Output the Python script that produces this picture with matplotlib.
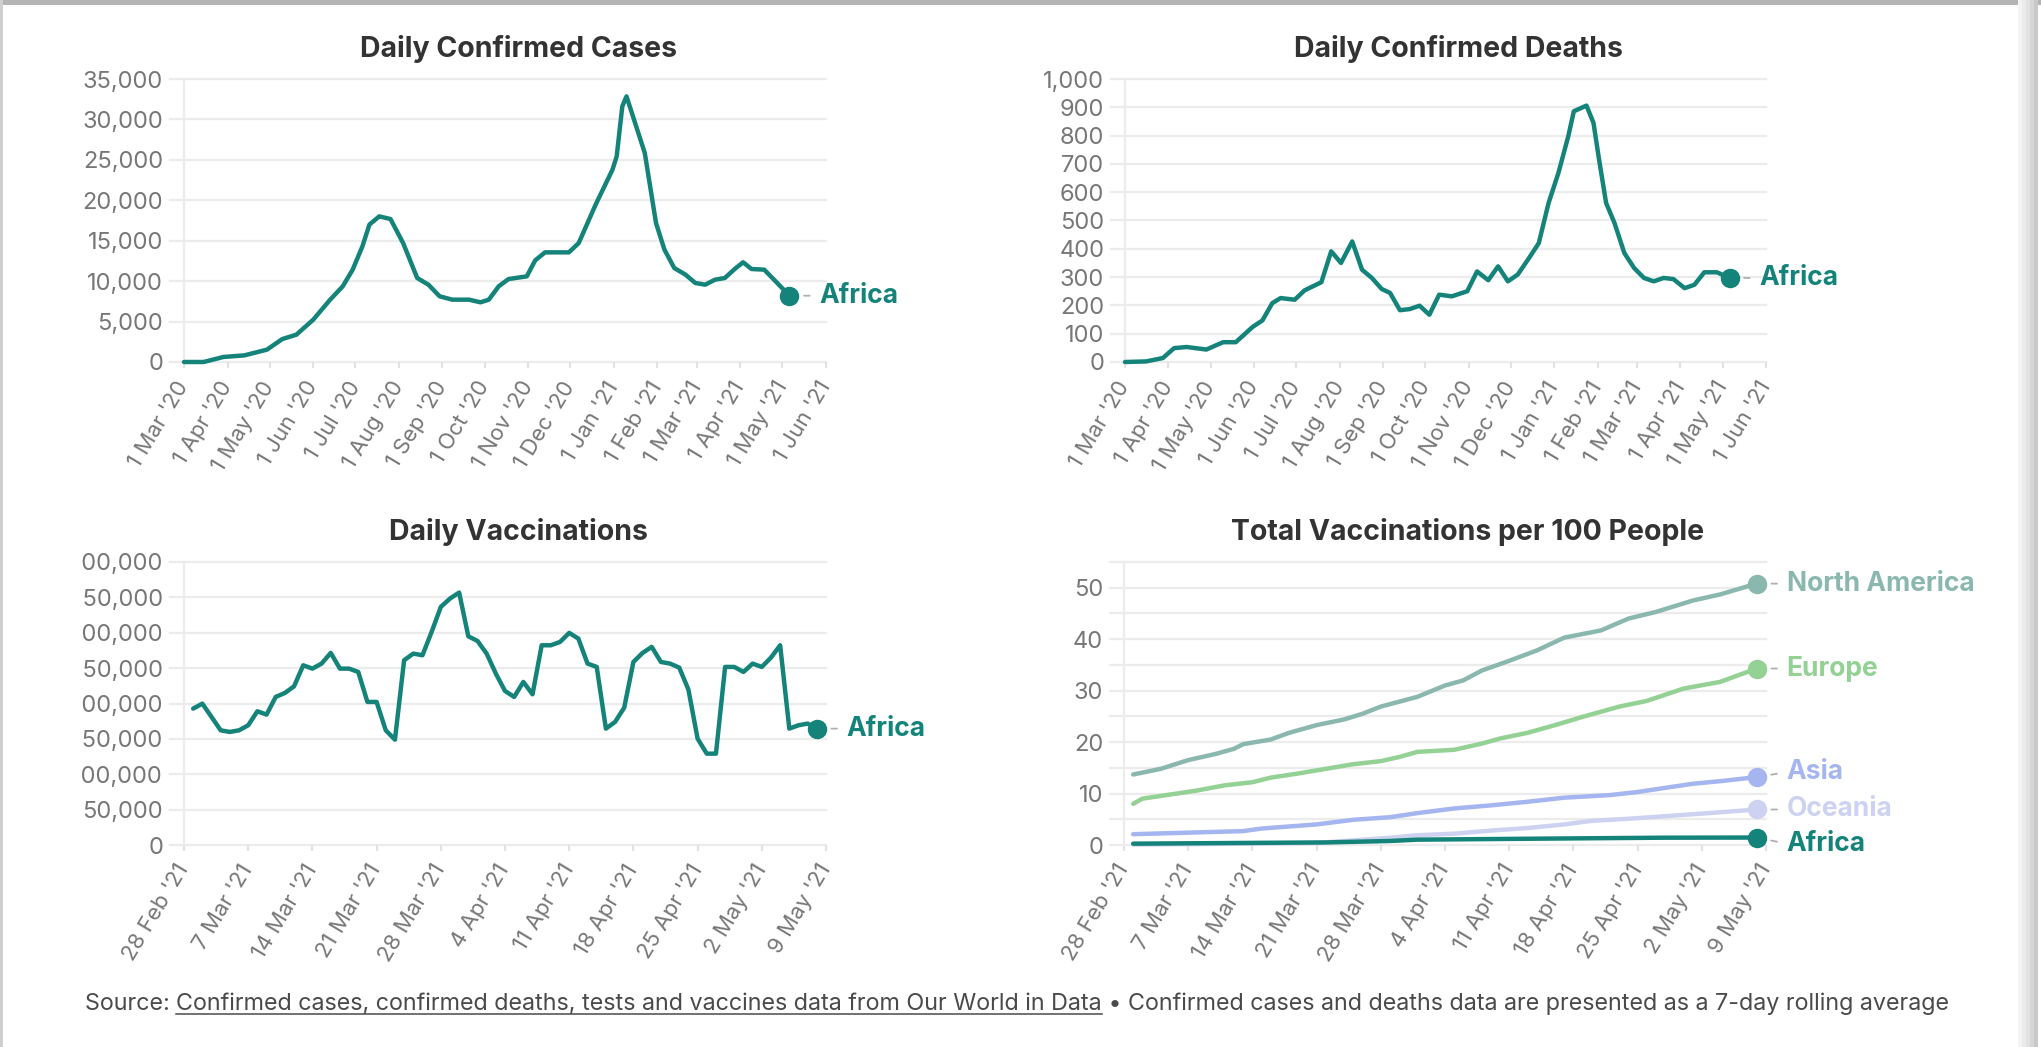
import matplotlib
matplotlib.use("Agg")
import numpy as np
import pandas as pd
import matplotlib.pyplot as plt
from matplotlib.lines import Line2D
from matplotlib.patches import Rectangle
from matplotlib.transforms import Bbox, TransformedBbox

plt.rcParams["font.family"] = ["Inter", "DejaVu Sans"]

# ==================== data ====================
cases_dates = ["2020-03-01", "2020-03-15", "2020-03-29", "2020-04-13", "2020-04-29",
               "2020-05-10", "2020-05-20", "2020-06-01", "2020-06-13", "2020-06-22",
               "2020-06-29", "2020-07-06", "2020-07-11", "2020-07-18", "2020-07-26",
               "2020-08-04", "2020-08-14", "2020-08-22", "2020-08-30", "2020-09-08",
               "2020-09-20", "2020-09-28", "2020-10-04", "2020-10-11", "2020-10-18",
               "2020-10-31", "2020-11-06", "2020-11-13", "2020-11-30", "2020-12-07",
               "2020-12-19", "2020-12-31", "2021-01-03", "2021-01-07", "2021-01-10",
               "2021-01-23", "2021-01-31", "2021-02-06", "2021-02-13", "2021-02-21",
               "2021-02-28", "2021-03-07", "2021-03-14", "2021-03-21", "2021-03-28",
               "2021-04-03", "2021-04-09", "2021-04-18", "2021-04-25", "2021-05-06"]
cases = [0, 0, 620, 820, 1525, 2840, 3380, 5235, 7700, 9360,
         11400, 14300, 17000, 18010, 17680, 14700, 10390, 9560, 8120, 7710,
         7710, 7380, 7710, 9360, 10260, 10590, 12570, 13560, 13560, 14720,
         19460, 23780, 25430, 31620, 32850, 25850, 17190, 13890, 11620, 10800,
         9770, 9560, 10180, 10390, 11500, 12330, 11500, 11420, 10180, 8200]

deaths_dates = ["2020-03-01", "2020-03-16", "2020-03-28", "2020-04-05", "2020-04-14",
                "2020-04-28", "2020-05-10", "2020-05-19", "2020-05-31", "2020-06-07",
                "2020-06-14", "2020-06-20", "2020-06-30", "2020-07-07", "2020-07-19",
                "2020-07-26", "2020-08-02", "2020-08-10", "2020-08-17", "2020-08-24",
                "2020-08-31", "2020-09-06", "2020-09-13", "2020-09-20", "2020-09-27",
                "2020-10-04", "2020-10-11", "2020-10-20", "2020-10-31", "2020-11-07",
                "2020-11-15", "2020-11-22", "2020-11-29", "2020-12-06", "2020-12-14",
                "2020-12-21", "2020-12-28", "2021-01-04", "2021-01-11", "2021-01-15",
                "2021-01-24", "2021-01-29", "2021-02-02", "2021-02-07", "2021-02-13",
                "2021-02-20", "2021-02-27", "2021-03-06", "2021-03-13", "2021-03-20",
                "2021-03-27", "2021-04-04", "2021-04-11", "2021-04-18", "2021-04-27",
                "2021-05-06"]
deaths = [0, 2, 14, 49, 53, 44, 70, 70, 124, 147,
          208, 226, 220, 253, 282, 391, 350, 426, 326, 297,
          258, 244, 183, 187, 199, 167, 238, 232, 250, 320,
          289, 338, 285, 309, 367, 420, 562, 668, 797, 886,
          906, 845, 715, 562, 491, 385, 332, 297, 285, 297,
          293, 261, 273, 317, 317, 297]

vacc_dates = pd.date_range("2021-03-01", "2021-05-08", freq="D")
daily_vacc = [192800, 199800, 181000, 162100, 159800, 162100, 169200, 189000, 184300, 209300,
              214900, 224300, 254000, 249300, 256400, 271500, 249300, 249300, 244600, 202200,
              202200, 162100, 148900, 261100, 270500, 268200, 301200, 336500, 348300, 356800,
              295000, 288400, 270500, 242300, 217700, 209300, 230500, 213000, 282300, 282300,
              287000, 299800, 291700, 256400, 251700, 164500, 173900, 194200, 258700, 271500,
              280000, 258700, 256400, 250700, 219600, 150300, 129100, 129100, 251700, 251700,
              244600, 256400, 251700, 264900, 282300, 164500, 169200, 171600, 164500]

na_dates = ["2021-03-01", "2021-03-04", "2021-03-07", "2021-03-10", "2021-03-12",
            "2021-03-13", "2021-03-16", "2021-03-18", "2021-03-21", "2021-03-24",
            "2021-03-26", "2021-03-28", "2021-04-01", "2021-04-04", "2021-04-06",
            "2021-04-08", "2021-04-11", "2021-04-14", "2021-04-17", "2021-04-21",
            "2021-04-24", "2021-04-27", "2021-05-01", "2021-05-04", "2021-05-08"]
north_america = [13.7, 14.8, 16.5, 17.7, 18.7, 19.6, 20.5, 21.8, 23.3, 24.4,
                 25.5, 26.9, 28.8, 31.0, 32.0, 33.9, 35.8, 37.8, 40.3, 41.7,
                 44.0, 45.3, 47.5, 48.7, 50.8]

eu_dates = ["2021-03-01", "2021-03-02", "2021-03-05", "2021-03-08", "2021-03-11",
            "2021-03-14", "2021-03-16", "2021-03-19", "2021-03-22", "2021-03-25",
            "2021-03-28", "2021-03-30", "2021-04-01", "2021-04-05", "2021-04-08",
            "2021-04-10", "2021-04-13", "2021-04-16", "2021-04-19", "2021-04-23",
            "2021-04-26", "2021-04-30", "2021-05-04", "2021-05-08"]
europe = [8.0, 9.0, 9.8, 10.6, 11.6, 12.2, 13.1, 13.9, 14.8, 15.7,
          16.3, 17.1, 18.1, 18.5, 19.7, 20.7, 21.8, 23.3, 24.9, 26.9,
          28.0, 30.4, 31.7, 34.3]

asia_dates = ["2021-03-01", "2021-03-05", "2021-03-13", "2021-03-15", "2021-03-18",
              "2021-03-21", "2021-03-25", "2021-03-29", "2021-04-01", "2021-04-05",
              "2021-04-09", "2021-04-13", "2021-04-17", "2021-04-22", "2021-04-25",
              "2021-04-28", "2021-05-01", "2021-05-04", "2021-05-08"]
asia = [2.1, 2.3, 2.7, 3.2, 3.6, 4.0, 4.9, 5.4, 6.2, 7.1,
        7.7, 8.4, 9.2, 9.7, 10.3, 11.1, 11.9, 12.4, 13.2]

oc_dates = ["2021-03-01", "2021-03-13", "2021-03-21", "2021-03-25", "2021-03-29",
            "2021-04-01", "2021-04-05", "2021-04-09", "2021-04-13", "2021-04-17",
            "2021-04-20", "2021-04-24", "2021-04-28", "2021-05-02", "2021-05-05",
            "2021-05-08"]
oceania = [0.1, 0.26, 0.4, 0.9, 1.4, 1.9, 2.2, 2.8, 3.3, 4.0,
           4.7, 5.1, 5.6, 6.1, 6.5, 6.9]

af_dates = ["2021-03-01", "2021-03-13", "2021-03-22", "2021-03-29", "2021-04-01",
            "2021-04-10", "2021-04-19", "2021-04-28", "2021-05-08"]
africa_per100 = [0.26, 0.4, 0.5, 0.78, 1.04, 1.17, 1.3, 1.42, 1.45]

month_ticks = pd.date_range("2020-03-01", "2021-06-01", freq="MS")
week_ticks = pd.date_range("2021-02-28", "2021-05-09", freq="7D")

# ==================== styles ====================
C_AFRICA = "#14837a"
C_NA = "#8bb8ae"
C_EU = "#94d194"
C_ASIA = "#a5b5ef"
C_OC = "#cdd2f1"
GRID = "#ececec"
TICK_C = "#777777"
TITLE_C = "#333333"

W, H = 2041, 1047
fig = plt.figure(figsize=(W / 100, H / 100), dpi=100)
fig.patch.set_facecolor("white")


def px_axes(left, top, right, bottom):
    return fig.add_axes([left / W, 1 - bottom / H, (right - left) / W, (bottom - top) / H])


def tick_label(d):
    return f"{d.day} {d.strftime('%b')} '{d.strftime('%y')}"


def style(ax, title, ymax, grid_step, label_ticks, xticks, fmt, title_shift=13):
    ax.set_xlim(xticks[0], xticks[-1])
    ax.set_ylim(0, ymax)
    for s in ["top", "right", "bottom"]:
        ax.spines[s].set_visible(False)
    ax.spines["left"].set_color(GRID)
    ax.spines["left"].set_linewidth(1.6)
    for g in np.arange(0, ymax + 1e-9, grid_step):
        ax.axhline(g, xmin=-0.022, xmax=1, color=GRID, lw=1.6, clip_on=False, zorder=0)
    ax.set_yticks(label_ticks)
    ax.set_yticklabels([fmt(v) for v in label_ticks])
    ax.tick_params(axis="y", length=0, pad=15, labelsize=17, labelcolor=TICK_C)
    ax.set_xticks(xticks)
    ax.set_xticklabels([tick_label(d) for d in xticks], rotation=59, ha="right",
                       rotation_mode="anchor", va="center")
    ax.tick_params(axis="x", length=4, width=1.5, color="#e2e2e2", pad=11,
                   labelsize=16, labelcolor=TICK_C)
    ax.set_title(title, fontsize=20.5, fontweight="bold", color=TITLE_C, pad=16,
                 x=0.5 + title_shift / 642)
    ax.patch.set_alpha(0)


def series(ax, x, y, color, name, dy=0):
    x = pd.to_datetime(pd.Series(x))
    ax.plot(x, y, color=color, lw=3.2, solid_joinstyle="round", solid_capstyle="round",
            zorder=3, clip_on=False)
    ax.plot(x.iloc[-1], y[-1], "o", ms=13, color=color, zorder=4, clip_on=False)
    ax.annotate("", xy=(x.iloc[-1], y[-1]), xytext=(14.5, dy * 0.6), textcoords="offset points",
                arrowprops=dict(arrowstyle="-", color="#b0b0b0", lw=1.3, shrinkA=0, shrinkB=10.5),
                annotation_clip=False)
    ax.annotate(name, xy=(x.iloc[-1], y[-1]), xytext=(21.5, dy), textcoords="offset points",
                ha="left", va="center", fontsize=19, fontweight="bold", color=color,
                annotation_clip=False)


comma = lambda v: f"{int(v):,}"

ax1 = px_axes(184, 79, 826, 362)
style(ax1, "Daily Confirmed Cases", 35000, 5000, np.arange(0, 35001, 5000), month_ticks, comma)
series(ax1, cases_dates, cases, C_AFRICA, "Africa")

ax2 = px_axes(1125, 79, 1766, 362)
style(ax2, "Daily Confirmed Deaths", 1000, 100, np.arange(0, 1001, 100), month_ticks, comma)
series(ax2, deaths_dates, deaths, C_AFRICA, "Africa")

ax3 = px_axes(184, 562, 826, 845)
style(ax3, "Daily Vaccinations", 400000, 50000, np.arange(0, 400001, 50000), week_ticks, comma)
series(ax3, vacc_dates, daily_vacc, C_AFRICA, "Africa")
# the reference cuts the wide y labels off at the card's left edge
clip = TransformedBbox(Bbox([[82 / W, 0], [1, 1]]), fig.transFigure)
for t in ax3.get_yticklabels():
    t.set_clip_box(clip)
    t.set_clip_on(True)

ax4 = px_axes(1124, 562, 1766, 845)
style(ax4, "Total Vaccinations per 100 People", 55, 5, np.arange(0, 51, 10), week_ticks,
      lambda v: f"{int(v)}", title_shift=23)
series(ax4, na_dates, north_america, C_NA, "North America")
series(ax4, eu_dates, europe, C_EU, "Europe")
series(ax4, asia_dates, asia, C_ASIA, "Asia", dy=4)
series(ax4, oc_dates, oceania, C_OC, "Oceania")
series(ax4, af_dates, africa_per100, C_AFRICA, "Africa", dy=-5)

# ==================== footer ====================
renderer = fig.canvas.get_renderer()
fy = 1 - 1010 / H
foot = dict(fontsize=16.8, color="#4a4a4a", va="baseline")
t1 = fig.text(85 / W, fy, "Source: ", **foot)
b1 = t1.get_window_extent(renderer)
t2 = fig.text(b1.x1 / W, fy, "Confirmed cases, confirmed deaths, tests and vaccines data from Our World in Data", **foot)
b2 = t2.get_window_extent(renderer)
fig.add_artist(Line2D([b2.x0 / W, b2.x1 / W], [fy - 4 / H] * 2, color="#4a4a4a", lw=1.1))
fig.text(b2.x1 / W, fy, " \u2022 Confirmed cases and deaths data are presented as a 7-day rolling average", **foot)

# ==================== card border / shadow ====================
fig.add_artist(Rectangle((0, 1 - 5 / H), 1, 5 / H, transform=fig.transFigure, color="#b4b4b4", lw=0))
fig.add_artist(Rectangle((0, 0), 3 / W, 1, transform=fig.transFigure, color="#cfcfcf", lw=0))
for i, g in enumerate(["#f4f4f4", "#ececec", "#e2e2e2", "#d6d6d6", "#c8c8c8"]):
    fig.add_artist(Rectangle(((2018 + i * 4) / W, 0), 4 / W, 1, transform=fig.transFigure,
                             color=g, lw=0))

fig.savefig("out.png", dpi=100, facecolor="white")
